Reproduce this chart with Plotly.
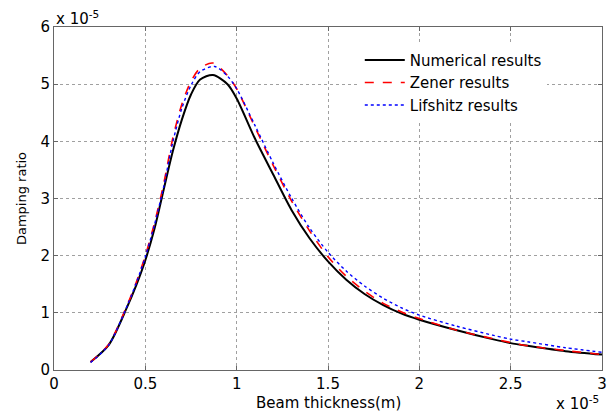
import plotly.graph_objects as go

# Beam thickness (x 1e-5 m) and damping ratio (x 1e-5)
num_x = [0.2, 0.3, 0.4, 0.45, 0.5, 0.55, 0.6, 0.65, 0.7, 0.75, 0.8, 0.87, 0.95, 1.0, 1.1, 1.2, 1.3, 1.4, 1.5, 1.6, 1.7, 1.8, 1.9, 2.0, 2.2, 2.4, 2.5, 2.6, 2.8, 3.0]
num_y = [0.14, 0.44, 1.10, 1.48, 1.92, 2.47, 3.15, 3.82, 4.38, 4.82, 5.08, 5.16, 5.00, 4.75, 4.05, 3.42, 2.80, 2.30, 1.90, 1.58, 1.33, 1.14, 0.99, 0.88, 0.70, 0.54, 0.47, 0.42, 0.33, 0.27]

zen_x = [0.2, 0.3, 0.4, 0.45, 0.5, 0.55, 0.6, 0.65, 0.7, 0.75, 0.8, 0.87, 0.95, 1.0, 1.1, 1.2, 1.3, 1.4, 1.5, 1.6, 1.7, 1.8, 1.9, 2.0, 2.2, 2.4, 2.5, 2.6, 2.8, 3.0]
zen_y = [0.14, 0.45, 1.13, 1.53, 2.00, 2.57, 3.25, 4.05, 4.65, 5.05, 5.28, 5.37, 5.15, 4.92, 4.25, 3.58, 2.96, 2.43, 1.98, 1.64, 1.38, 1.17, 1.02, 0.90, 0.70, 0.55, 0.48, 0.42, 0.34, 0.27]

lif_x = [0.2, 0.3, 0.4, 0.45, 0.5, 0.55, 0.6, 0.65, 0.7, 0.75, 0.8, 0.88, 0.95, 1.0, 1.1, 1.2, 1.3, 1.4, 1.5, 1.6, 1.7, 1.8, 1.9, 2.0, 2.2, 2.4, 2.5, 2.6, 2.8, 3.0]
lif_y = [0.13, 0.44, 1.12, 1.52, 1.98, 2.54, 3.20, 3.98, 4.58, 4.98, 5.22, 5.31, 5.14, 4.92, 4.28, 3.62, 3.01, 2.48, 2.06, 1.73, 1.47, 1.26, 1.09, 0.96, 0.77, 0.61, 0.54, 0.49, 0.39, 0.31]

x_ticks = [0, 0.5, 1, 1.5, 2, 2.5, 3]
x_tick_labels = ["0", "0.5", "1", "1.5", "2", "2.5", "3"]
y_ticks = [0, 1, 2, 3, 4, 5, 6]
y_tick_labels = ["0", "1", "2", "3", "4", "5", "6"]

FONT = "DejaVu Sans, Liberation Sans, Arial, sans-serif"

fig = go.Figure()
fig.add_trace(go.Scatter(x=num_x, y=num_y, mode="lines", name="Numerical results",
                         line=dict(color="black", width=2, shape="spline", smoothing=0.8)))
fig.add_trace(go.Scatter(x=zen_x, y=zen_y, mode="lines", name="Zener results",
                         line=dict(color="#ff0000", width=1.6, dash="dash", shape="spline", smoothing=0.8)))
fig.add_trace(go.Scatter(x=lif_x, y=lif_y, mode="lines", name="Lifshitz results",
                         line=dict(color="#0000ff", width=1.4, dash="dot", shape="spline", smoothing=0.8)))

axis_common = dict(showline=True, linecolor="#666666", linewidth=1, mirror="ticks",
                   ticks="inside", ticklen=4, tickcolor="#666666", automargin=False,
                   showgrid=True, gridcolor="#a0a0a0", griddash="dot", gridwidth=1,
                   zeroline=False, tickfont=dict(family=FONT, size=15, color="black"))

fig.update_xaxes(range=[0, 3], tickvals=x_ticks, ticktext=x_tick_labels, **axis_common)
fig.update_yaxes(range=[0, 6], tickvals=y_ticks, ticktext=y_tick_labels,
                 title=dict(text="Damping ratio", font=dict(family=FONT, size=13, color="black"), standoff=10),
                 **axis_common)

fig.update_layout(
    width=615, height=414,
    margin=dict(l=54, r=13, t=27, b=44),
    plot_bgcolor="white", paper_bgcolor="white",
    font=dict(family=FONT, color="black"),
    showlegend=True,
    legend=dict(x=0.558, y=0.951, xanchor="left", yanchor="top",
                bgcolor="white", borderwidth=0,
                font=dict(family=FONT, size=15, color="black"),
                tracegroupgap=0, itemwidth=40),
    annotations=[
        dict(text="Beam thickness(m)", xref="paper", yref="paper", x=0.5, y=0.0,
             xanchor="center", yanchor="top", showarrow=False, yshift=-22,
             font=dict(family=FONT, size=15, color="black")),
        dict(text="x 10<sup>-5</sup>", xref="paper", yref="paper", x=0.0, y=1.0,
             xanchor="left", yanchor="bottom", showarrow=False, yshift=-3,
             font=dict(family=FONT, size=15, color="black")),
        dict(text="x 10<sup>-5</sup>", xref="paper", yref="paper", x=1.0, y=0.0,
             xanchor="right", yanchor="top", showarrow=False, yshift=-21, xshift=-1,
             font=dict(family=FONT, size=15, color="black")),
    ],
)

fig.write_html("out.html", config={"displayModeBar": False},
               post_script="document.body.style.margin='0px';document.body.style.padding='0px';document.body.style.overflow='hidden';")
